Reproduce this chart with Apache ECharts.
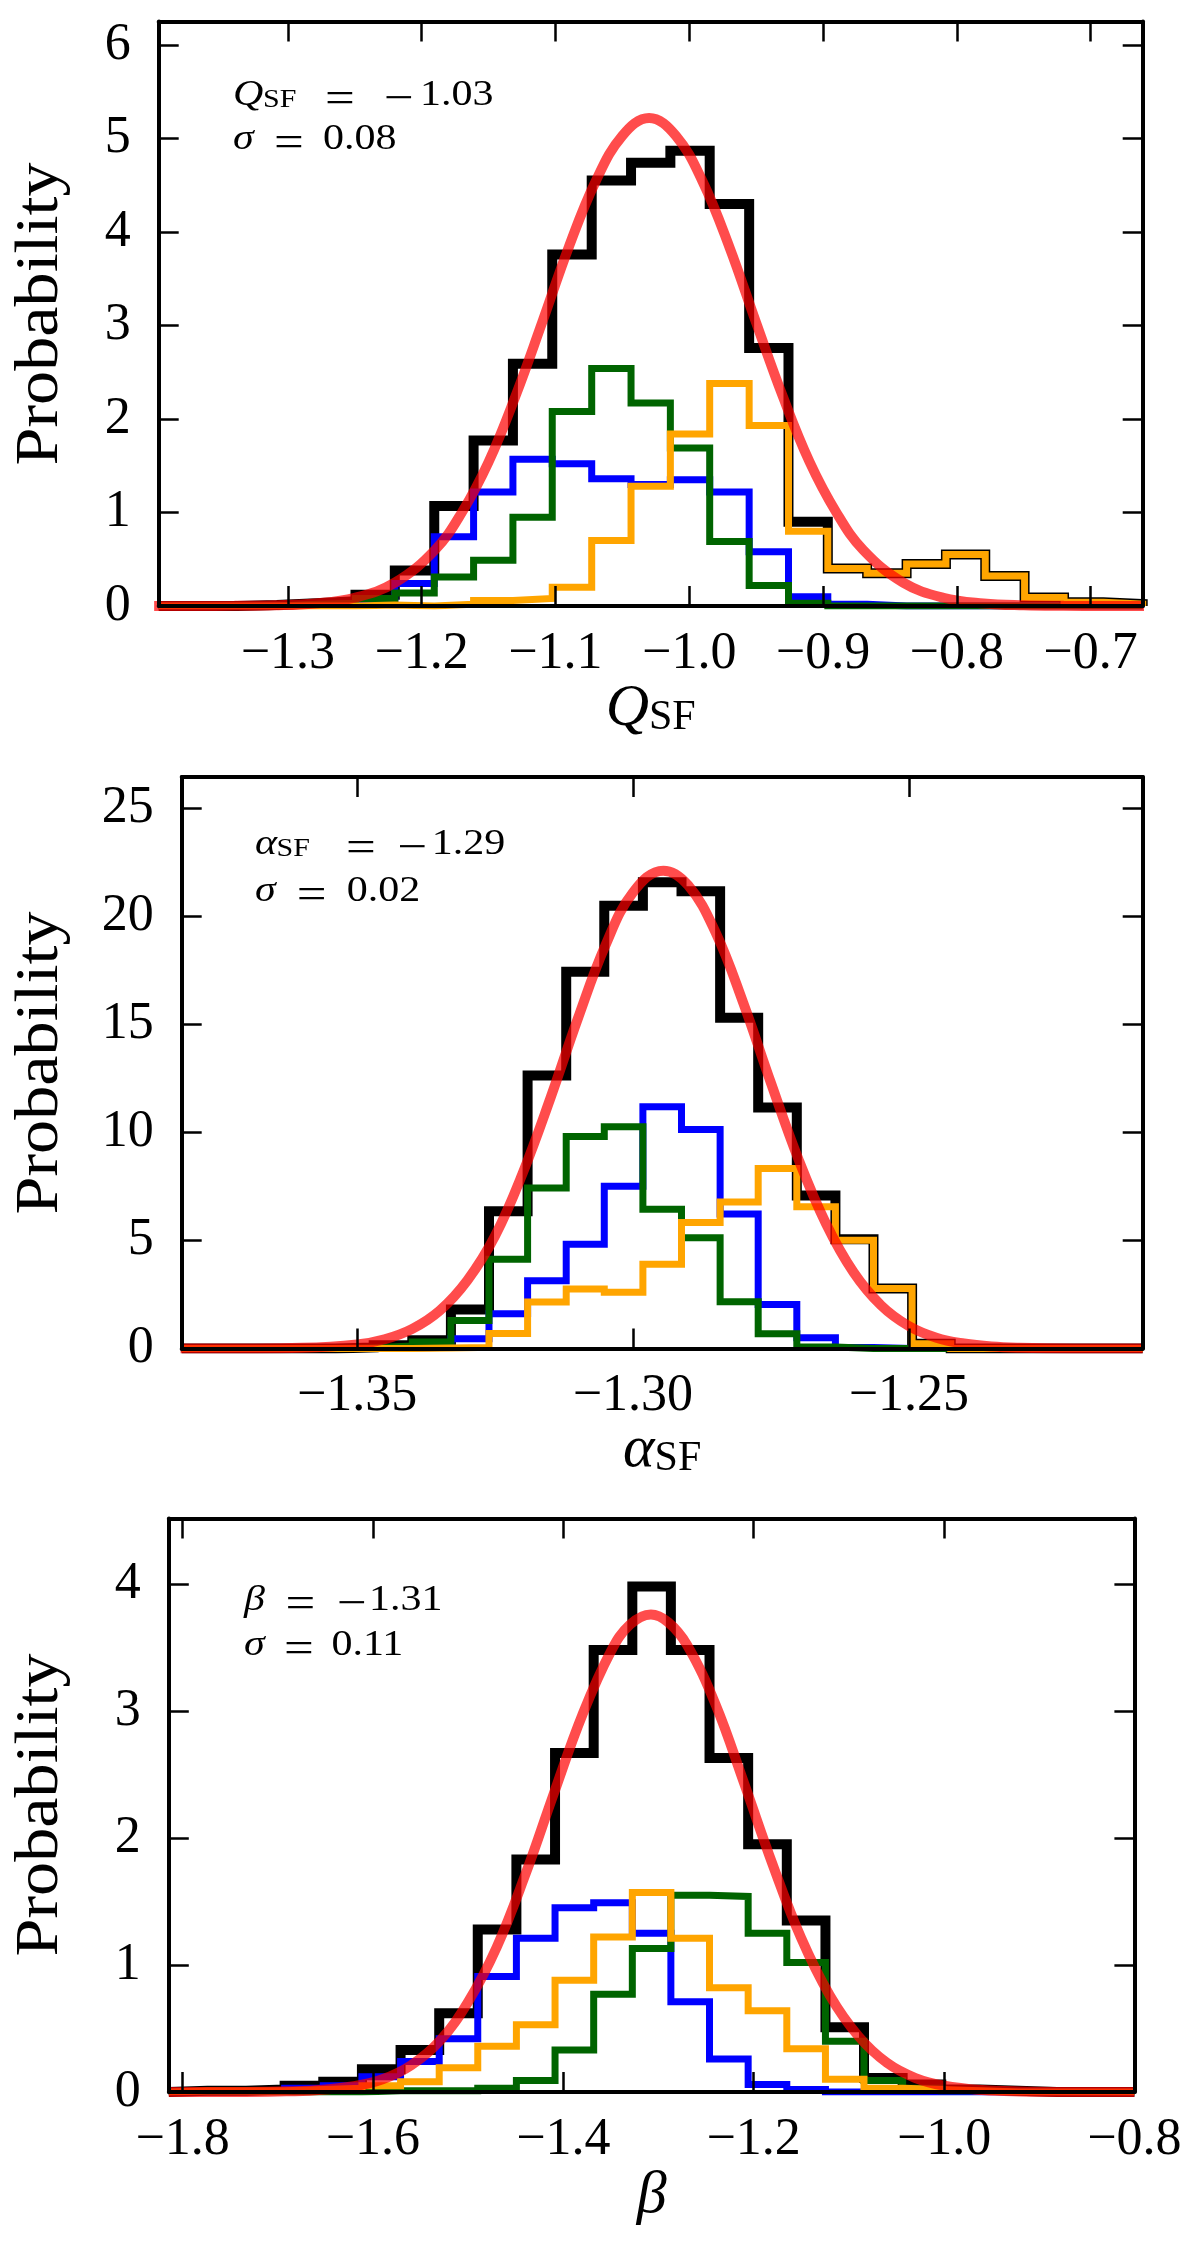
<!DOCTYPE html>
<html><head><meta charset="utf-8">
<script src="https://cdn.jsdelivr.net/npm/echarts@6/dist/echarts.min.js"></script>
<style>html,body{margin:0;padding:0;background:#fff}#c{width:1200px;height:2248px}</style>
</head><body><div id="c"></div>
<script>
// ---------- Panel 1 : Q_SF ----------
const p1Edges = [-1.3966,-1.3672,-1.3378,-1.3083,-1.2789,-1.2495,-1.2201,-1.1906,-1.1612,-1.1318,-1.1024,-1.0729,-1.0435,-1.0141,-0.9847,-0.9552,-0.9258,-0.8964,-0.8670,-0.8375,-0.8081,-0.7787,-0.7493,-0.7198,-0.6904,-0.6610];
const p1Black  = [0,0,0.01,0.03,0.05,0.12,0.38,1.07,1.77,2.59,3.76,4.55,4.74,4.87,4.30,2.76,0.90,0.40,0.35,0.45,0.55,0.32,0.09,0.04,0.02];
const p1Blue   = [0,0,0,0.01,0.02,0.03,0.24,0.74,1.22,1.57,1.52,1.36,1.30,1.35,1.22,0.58,0.10,0.02,0,0,0,0,0,0,0];
const p1Green  = [0,0,0,0.02,0.03,0.08,0.14,0.31,0.49,0.95,2.08,2.54,2.17,1.69,0.69,0.22,0.03,0,0,0,0,0,0,0,0];
const p1Orange = [0,0,0,0,0,0.01,0,0.02,0.06,0.08,0.20,0.70,1.28,1.84,2.38,1.93,0.80,0.40,0.35,0.45,0.55,0.32,0.09,0.04,0.02];
const p1FitX = [-1.40,-1.37,-1.34,-1.31,-1.28,-1.25,-1.22,-1.19,-1.17,-1.15,-1.13,-1.11,-1.09,-1.07,-1.05,-1.03,-1.01,-0.99,-0.97,-0.95,-0.93,-0.91,-0.89,-0.87,-0.84,-0.81,-0.78,-0.75,-0.72,-0.69,-0.66];
const p1FitY = [0,0.001,0.002,0.007,0.027,0.088,0.25,0.60,1.00,1.54,2.24,3.03,3.84,4.54,5.03,5.22,5.03,4.54,3.84,3.03,2.24,1.54,1.00,0.60,0.25,0.088,0.027,0.007,0.002,0.001,0];
const p1XTicks = [-1.3,-1.2,-1.1,-1.0,-0.9,-0.8,-0.7];
const p1XLabels = ['\u22121.3','\u22121.2','\u22121.1','\u22121.0','\u22120.9','\u22120.8','\u22120.7'];
const p1YTicks = [0,1,2,3,4,5,6];
const p1YLabels = ['0','1','2','3','4','5','6'];

// ---------- Panel 2 : alpha_SF ----------
const p2Edges = [-1.3818,-1.3748,-1.3679,-1.3609,-1.3539,-1.3470,-1.3400,-1.3330,-1.3261,-1.3191,-1.3121,-1.3052,-1.2982,-1.2912,-1.2842,-1.2773,-1.2703,-1.2633,-1.2564,-1.2494,-1.2424,-1.2355,-1.2285,-1.2215,-1.2146,-1.2076];
const p2Black  = [0,0,0,0,0.05,0.15,0.38,1.80,6.35,12.63,17.42,20.48,21.56,21.15,15.30,11.15,7.07,5.05,2.78,0.22,0,0,0,0,0];
const p2Blue   = [0,0,0,0,0,0.02,0.05,0.45,1.61,3.13,4.82,7.50,11.18,10.13,6.22,2.04,0.50,0.05,0,0,0,0,0,0,0];
const p2Green  = [0,0,0,0,0.04,0.12,0.30,1.30,4.13,7.42,9.80,10.26,6.44,5.12,2.16,0.68,0.07,0,0,0,0,0,0,0,0];
const p2Orange = [0,0,0,0,0,0,0.02,0.05,0.69,2.15,2.75,2.60,3.90,5.83,6.78,8.32,6.56,5.01,2.78,0.22,0,0,0,0,0];
const p2FitX = [-1.382,-1.37,-1.36,-1.35,-1.345,-1.34,-1.335,-1.33,-1.325,-1.32,-1.315,-1.31,-1.305,-1.30,-1.2945,-1.29,-1.285,-1.28,-1.275,-1.27,-1.265,-1.26,-1.255,-1.25,-1.245,-1.24,-1.235,-1.23,-1.22,-1.2076];
const p2FitY = [0,0.003,0.03,0.19,0.43,0.91,1.76,3.16,5.21,8.10,11.55,15.25,18.64,21.09,22.1,21.42,19.23,15.98,12.29,8.75,5.77,3.52,1.99,1.04,0.50,0.23,0.09,0.036,0.004,0];
const p2XTicks = [-1.35,-1.30,-1.25];
const p2XLabels = ['\u22121.35','\u22121.30','\u22121.25'];
const p2YTicks = [0,5,10,15,20,25];
const p2YLabels = ['0','5','10','15','20','25'];

// ---------- Panel 3 : beta ----------
const p3Edges = [-1.8145,-1.7739,-1.7333,-1.6928,-1.6522,-1.6116,-1.5710,-1.5304,-1.4899,-1.4493,-1.4087,-1.3681,-1.3275,-1.2870,-1.2464,-1.2058,-1.1652,-1.1246,-1.0841,-1.0435,-1.0029,-0.9623,-0.9217,-0.8812,-0.8406,-0.8000];
const p3Black  = [0.01,0.01,0.02,0.05,0.08,0.18,0.33,0.62,1.28,1.83,2.67,3.48,3.98,3.48,2.63,1.95,1.35,0.51,0.11,0.06,0.02,0.01,0,0,0];
const p3Blue   = [0,0,0.01,0.03,0.05,0.12,0.24,0.42,0.91,1.21,1.45,1.49,1.25,0.71,0.26,0.06,0.02,0,0,0,0,0,0,0,0];
const p3Green  = [0,0,0,0,0,0.01,0.01,0.01,0.03,0.09,0.33,0.77,1.13,1.55,1.54,1.25,1.02,0.40,0.09,0.03,0.01,0,0,0,0];
const p3Orange = [0.01,0.01,0.01,0.02,0.03,0.05,0.08,0.19,0.36,0.53,0.88,1.22,1.57,1.21,0.82,0.64,0.34,0.10,0.03,0.02,0.01,0,0,0,0];
const p3FitX = [-1.8145,-1.75,-1.70,-1.66,-1.62,-1.59,-1.56,-1.53,-1.50,-1.47,-1.44,-1.41,-1.38,-1.35,-1.33,-1.308,-1.29,-1.27,-1.24,-1.21,-1.18,-1.15,-1.12,-1.09,-1.06,-1.03,-1.00,-0.96,-0.92,-0.86,-0.80];
const p3FitY = [0,0.0005,0.004,0.014,0.045,0.10,0.21,0.40,0.71,1.14,1.71,2.35,2.97,3.47,3.68,3.76,3.70,3.52,3.05,2.43,1.79,1.21,0.76,0.44,0.23,0.11,0.05,0.015,0.004,0.0004,0];
const p3XTicks = [-1.8,-1.6,-1.4,-1.2,-1.0,-0.8];
const p3XLabels = ['\u22121.8','\u22121.6','\u22121.4','\u22121.2','\u22121.0','\u22120.8'];
const p3YTicks = [0,1,2,3,4];
const p3YLabels = ['0','1','2','3','4'];

// ---------- annotation texts ----------
const annSymbols = ['Q','\u03b1','\u03b2'];
const annSubs = ['SF','SF',''];
const annMeans = ['1.03','1.29','1.31'];   // shown with a minus sign
const annSigmas = ['0.08','0.02','0.11'];

// ---------- build ----------
const FONT = '"Liberation Serif", "DejaVu Serif", serif';
const panels = [
  {grid:{left:158.7, top:21.6, width:984, height:584.4}, xMin:-1.3966, xMax:-0.661, yMax:6.25,
   edges:p1Edges, black:p1Black, blue:p1Blue, green:p1Green, orange:p1Orange, fitX:p1FitX, fitY:p1FitY,
   xt:p1XTicks, xl:p1XLabels, yt:p1YTicks, yl:p1YLabels},
  {grid:{left:181.7, top:777, width:961, height:571.5}, xMin:-1.3818, xMax:-1.2076, yMax:26.43,
   edges:p2Edges, black:p2Black, blue:p2Blue, green:p2Green, orange:p2Orange, fitX:p2FitX, fitY:p2FitY,
   xt:p2XTicks, xl:p2XLabels, yt:p2YTicks, yl:p2YLabels},
  {grid:{left:168.8, top:1518.5, width:965.6, height:573.5}, xMin:-1.8145, xMax:-0.8, yMax:4.516,
   edges:p3Edges, black:p3Black, blue:p3Blue, green:p3Green, orange:p3Orange, fitX:p3FitX, fitY:p3FitY,
   xt:p3XTicks, xl:p3XLabels, yt:p3YTicks, yl:p3YLabels}
];

function histData(edges, vals){
  const d=[[edges[0],0]];
  for(let i=0;i<vals.length;i++) d.push([edges[i],vals[i]]);
  d.push([edges[vals.length], vals[vals.length-1]]);
  d.push([edges[vals.length],0]);
  return d;
}
function lookup(ticks, labels){
  return function(v){ for(let i=0;i<ticks.length;i++){ if(Math.abs(ticks[i]-v)<1e-9) return labels[i]; } return ''; };
}
const grids=[], xAxes=[], yAxes=[], series=[];
panels.forEach((p,gi)=>{
  grids.push(Object.assign({containLabel:false}, p.grid));
  const line = {show:true, onZero:false, lineStyle:{color:'#000', width:4}};
  const tickX = {show:true, inside:true, length:20, customValues:p.xt, lineStyle:{color:'#000', width:2.5}};
  const tickY = {show:true, inside:true, length:20, customValues:p.yt, lineStyle:{color:'#000', width:2.5}};
  xAxes.push({type:'value', gridIndex:gi, position:'bottom', min:p.xMin, max:p.xMax, z:10,
    axisLine:line, axisTick:tickX, splitLine:{show:false},
    axisLabel:{show:true, customValues:p.xt, formatter:lookup(p.xt,p.xl), margin:22, color:'#000', fontFamily:FONT, fontSize:52, lineHeight:52}});
  xAxes.push({type:'value', gridIndex:gi, position:'top', min:p.xMin, max:p.xMax, z:10,
    axisLine:line, axisTick:tickX, splitLine:{show:false}, axisLabel:{show:false}});
  yAxes.push({type:'value', gridIndex:gi, position:'left', min:0, max:p.yMax, z:10,
    axisLine:line, axisTick:tickY, splitLine:{show:false},
    axisLabel:{show:true, customValues:p.yt, formatter:lookup(p.yt,p.yl), margin:28, color:'#000', fontFamily:FONT, fontSize:52, lineHeight:52}});
  yAxes.push({type:'value', gridIndex:gi, position:'right', min:0, max:p.yMax, z:10,
    axisLine:line, axisTick:tickY, splitLine:{show:false}, axisLabel:{show:false}});
  const xi = gi*2, yi = gi*2;
  const hist = (vals,color,w)=>({type:'line', xAxisIndex:xi, yAxisIndex:yi, step:'end', showSymbol:false, symbol:'none',
     data:histData(p.edges, vals), lineStyle:{color:color, width:w, join:'miter'}, silent:true, animation:false});
  series.push(hist(p.black,'#000000',10));
  series.push(hist(p.blue,'#0000ff',7));
  series.push(hist(p.green,'#006400',7));
  series.push(hist(p.orange,'#ffa500',7));
  series.push({type:'line', xAxisIndex:xi, yAxisIndex:yi, smooth:0.4, showSymbol:false, symbol:'none',
     data:p.fitX.map((x,i)=>[x,p.fitY[i]]), lineStyle:{color:'#ff0000', width:10, opacity:0.7}, silent:true, animation:false});
});

// rich-text annotation builder (LaTeX-like spacing)
const SX = 1.2, AF = 35, OPF = 44;
function annLine(x0, base, sym, symW, sub, eqC, minusStart, numStart, digits){
  const L = t => (t - x0)/SX;
  const mainTok = (extra)=>Object.assign({fontFamily:FONT, fontSize:AF, lineHeight:AF, verticalAlign:'top', fill:'#000'}, extra||{});
  const rich = {
    i: mainTok({fontStyle:'italic', width:symW}),
    s: {fontFamily:FONT, fontSize:25, lineHeight:16, verticalAlign:'bottom', width:28, fill:'#000'},
    n: mainTok()
  };
  let text = '{i|'+sym+'}' + (sub ? '{s|'+sub+'}' : '');
  const cursor = symW + (sub ? 28 : 0);
  const eqEnd = (minusStart!=null) ? L(minusStart) : L(numStart);
  const eqC_l = L(eqC);
  let half = eqEnd - eqC_l;
  let gap = eqC_l - half - cursor;
  if (gap < 0) { half = (eqEnd - cursor)/2; gap = 0; }
  if (gap > 0.5) { text += '{g| }'; rich.g = mainTok({width:gap}); }
  rich.e = {fontFamily:FONT, fontSize:OPF, lineHeight:AF, verticalAlign:'top', width:2*half, align:'center', fill:'#000'};
  text += '{e|=}';
  if (minusStart!=null){
    rich.m = {fontFamily:FONT, fontSize:OPF, lineHeight:AF, verticalAlign:'top', width:L(numStart)-eqEnd, align:'center', fill:'#000'};
    text += '{m|\u2212}';
  }
  text += '{n|'+digits+'}';
  return {type:'text', x:x0, y:base - 0.3375*AF, scaleX:SX, scaleY:1, z:100,
    style:{text:text, rich:rich, fill:'#000', fontFamily:FONT, fontSize:AF, align:'left', verticalAlign:'middle'}};
}
const graphics = [
  annLine(233, 107.5, annSymbols[0], 25, annSubs[0], 340, 378, 420, annMeans[0]),
  annLine(233, 152,   '\u03c3', 18, '', 283, null, 323, annSigmas[0]),
  annLine(255, 856.7, annSymbols[1], 18, annSubs[1], 361, 393, 431.7, annMeans[1]),
  annLine(255, 903.3, '\u03c3', 18, '', 306, null, 346.7, annSigmas[1]),
  annLine(244, 1613,  annSymbols[2], 18, annSubs[2], 299, 335, 369, annMeans[2]),
  annLine(244, 1657.7,'\u03c3', 18, '', 299, null, 331.4, annSigmas[2])
];
const richName = {
  i:{fontFamily:FONT, fontStyle:'italic', fontSize:60, lineHeight:60, verticalAlign:'top', fill:'#000'},
  s:{fontFamily:FONT, fontSize:42, lineHeight:26, verticalAlign:'bottom', fill:'#000'}
};
graphics.push({type:'text', x:650.7, y:709, z:100, style:{text:'{i|Q}{s|SF}', rich:richName, fill:'#000', fontFamily:FONT, align:'center', verticalAlign:'middle'}});
graphics.push({type:'text', x:662.2, y:1450, z:100, style:{text:'{i|\u03b1}{s|SF}', rich:richName, fill:'#000', fontFamily:FONT, align:'center', verticalAlign:'middle'}});
graphics.push({type:'text', x:651.6, y:2196, z:100, style:{text:'{i|\u03b2}', rich:richName, fill:'#000', fontFamily:FONT, align:'center', verticalAlign:'middle'}});
[314,1063,1805].forEach((cy)=>{
  graphics.push({type:'text', x:41, y:cy, rotation:Math.PI/2, scaleX:1.1, scaleY:1, z:100,
    style:{text:'Probability', fill:'#000', fontFamily:FONT, fontSize:62, align:'center', verticalAlign:'middle'}});
});

const chart = echarts.init(document.getElementById('c'), null, {renderer:'canvas', width:1200, height:2248});
chart.setOption({
  animation:false,
  backgroundColor:'#ffffff',
  textStyle:{fontFamily:FONT},
  grid:grids, xAxis:xAxes, yAxis:yAxes, series:series, graphic:graphics
});
</script></body></html>
